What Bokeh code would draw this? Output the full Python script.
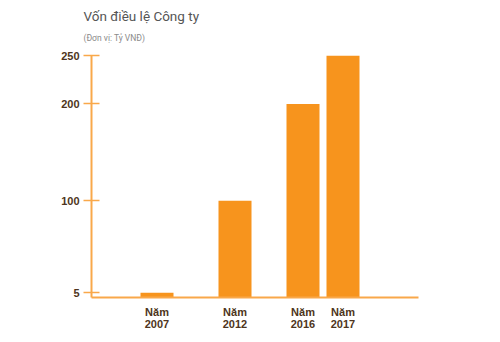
from bokeh.plotting import figure
from bokeh.models import Range1d, FixedTicker, Title, ColumnDataSource
from bokeh.embed import file_html
from bokeh.resources import INLINE

# ---- data ----
years = ["2007", "2012", "2016", "2017"]
capital = [5, 100, 200, 250]          # Tỷ VNĐ
y_ticks = [5, 100, 200, 250]
title_text = "Vốn điều lệ Công ty"
subtitle_text = "(Đơn vị: Tỷ VNĐ)"

# ---- layout (slot centres along the x axis, in frame pixels) ----
x_slots = [65.5, 143.5, 211.5, 251.5]
BAR_W = 33

BAR_COLOR = "#F7941D"
AXIS_COLOR = "#F9A84A"
LABEL_COLOR = "#4E3520"

src = ColumnDataSource(dict(x=x_slots, top=capital, year=years))

p = figure(width=500, height=342, output_backend="svg", toolbar_location=None,
           x_range=Range1d(0, 327), y_range=Range1d(0, 250),
           min_border_left=91, min_border_right=82,
           min_border_top=55, min_border_bottom=45)
p.outline_line_color = None
p.background_fill_color = "white"
p.border_fill_color = "white"
p.grid.visible = False

p.vbar(x="x", top="top", bottom=0, width=BAR_W, source=src,
       fill_color=BAR_COLOR, line_color=None)

# y axis
ya = p.yaxis[0]
ya.ticker = FixedTicker(ticks=y_ticks)
ya.minor_tick_line_color = None
ya.axis_line_color = AXIS_COLOR
ya.axis_line_width = 2
ya.major_tick_line_color = AXIS_COLOR
ya.major_tick_line_width = 1.5
ya.major_tick_in = 8
ya.major_tick_out = 8
ya.major_label_standoff = 4
ya.major_label_text_font = "Liberation Sans"
ya.major_label_text_font_style = "bold"
ya.major_label_text_font_size = "11px"
ya.major_label_text_color = LABEL_COLOR

# x axis
xa = p.xaxis[0]
xa.ticker = FixedTicker(ticks=x_slots)
xa.major_label_overrides = {x: "Năm\n" + y for x, y in zip(x_slots, years)}
xa.minor_tick_line_color = None
xa.major_tick_line_color = None
xa.axis_line_color = AXIS_COLOR
xa.axis_line_width = 2
xa.major_label_standoff = 2
xa.major_label_text_font = "Liberation Sans"
xa.major_label_text_font_style = "bold"
xa.major_label_text_font_size = "11px"
xa.major_label_text_line_height = 1.0
xa.major_label_text_color = LABEL_COLOR

# titles
p.add_layout(Title(text=subtitle_text, align="left", offset=-8, standoff=25,
                   text_font="Roboto", text_font_size="8.5px",
                   text_font_style="normal", text_color="#8A8A8A"), "above")
p.add_layout(Title(text=title_text, align="left", offset=-8, standoff=-11,
                   text_font="Roboto", text_font_size="13.5px",
                   text_font_style="normal", text_color="#555555"), "above")

open("out.html", "w").write(file_html(p, INLINE))
